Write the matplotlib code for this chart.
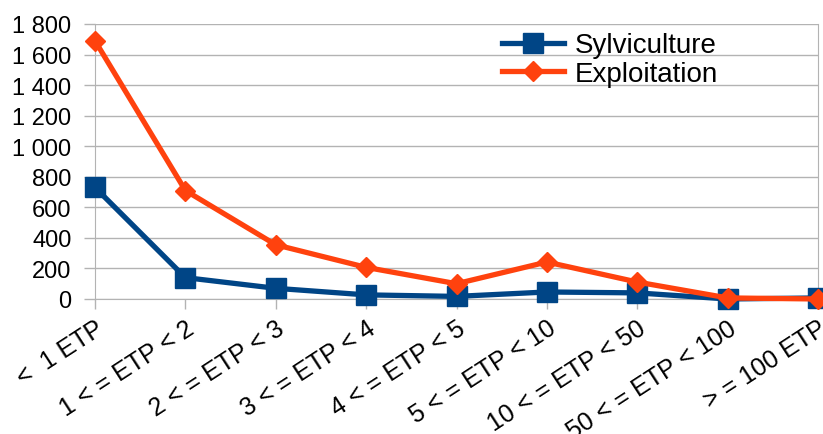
import matplotlib
matplotlib.use("Agg")
import matplotlib.pyplot as plt
from matplotlib.ticker import FuncFormatter

plt.rcParams['font.family'] = ['Liberation Sans', 'DejaVu Sans']

categories = ["<  1 ETP", "1 < = ETP < 2", "2 < = ETP < 3", "3 < = ETP < 4",
              "4 < = ETP < 5", "5 < = ETP < 10", "10 < = ETP < 50",
              "50 < = ETP < 100", "> = 100 ETP"]
sylviculture = [730, 140, 70, 27, 17, 46, 40, 0, 7]
exploitation = [1690, 710, 355, 207, 100, 242, 111, 7, 0]
y_ticks = list(range(0, 1801, 200))

fig = plt.figure(figsize=(8.23, 4.35), dpi=100)
ax = fig.add_axes([95 / 823, 1 - 300 / 435, 723 / 823, 275 / 435])

x = list(range(len(categories)))
ax.plot(x, sylviculture, color='#004586', lw=3.8, marker='s', ms=14,
        label='Sylviculture', clip_on=False, zorder=3)
ax.plot(x, exploitation, color='#ff420e', lw=3.8, marker='D', ms=10,
        label='Exploitation', clip_on=False, zorder=4)

ax.set_xlim(0, len(categories) - 1)
ax.set_ylim(0, 1800)
ax.set_yticks(y_ticks)
ax.yaxis.set_major_formatter(FuncFormatter(lambda v, p: f"{int(v):,}".replace(",", " ")))
ax.set_xticks(x)
ax.set_xticklabels(categories, rotation=33, ha='right', va='top',
                   rotation_mode='anchor')

ax.grid(axis='y', color='#b3b3b3', lw=1)
ax.set_axisbelow(True)
ax.spines['top'].set_visible(False)
for side in ['left', 'right', 'bottom']:
    ax.spines[side].set_color('#b3b3b3')
ax.tick_params(axis='both', colors='#b3b3b3', labelcolor='black', width=1)
ax.tick_params(axis='x', length=7, pad=5, labelsize=18)
ax.tick_params(axis='y', length=8, pad=9, labelsize=17)

ax.legend(loc='upper left', bbox_to_anchor=(0.547, 1.01), frameon=False,
          fontsize=20, handlelength=2.25, labelspacing=0.1, handletextpad=0.4,
          borderaxespad=0)

fig.savefig("out.png", dpi=100)
